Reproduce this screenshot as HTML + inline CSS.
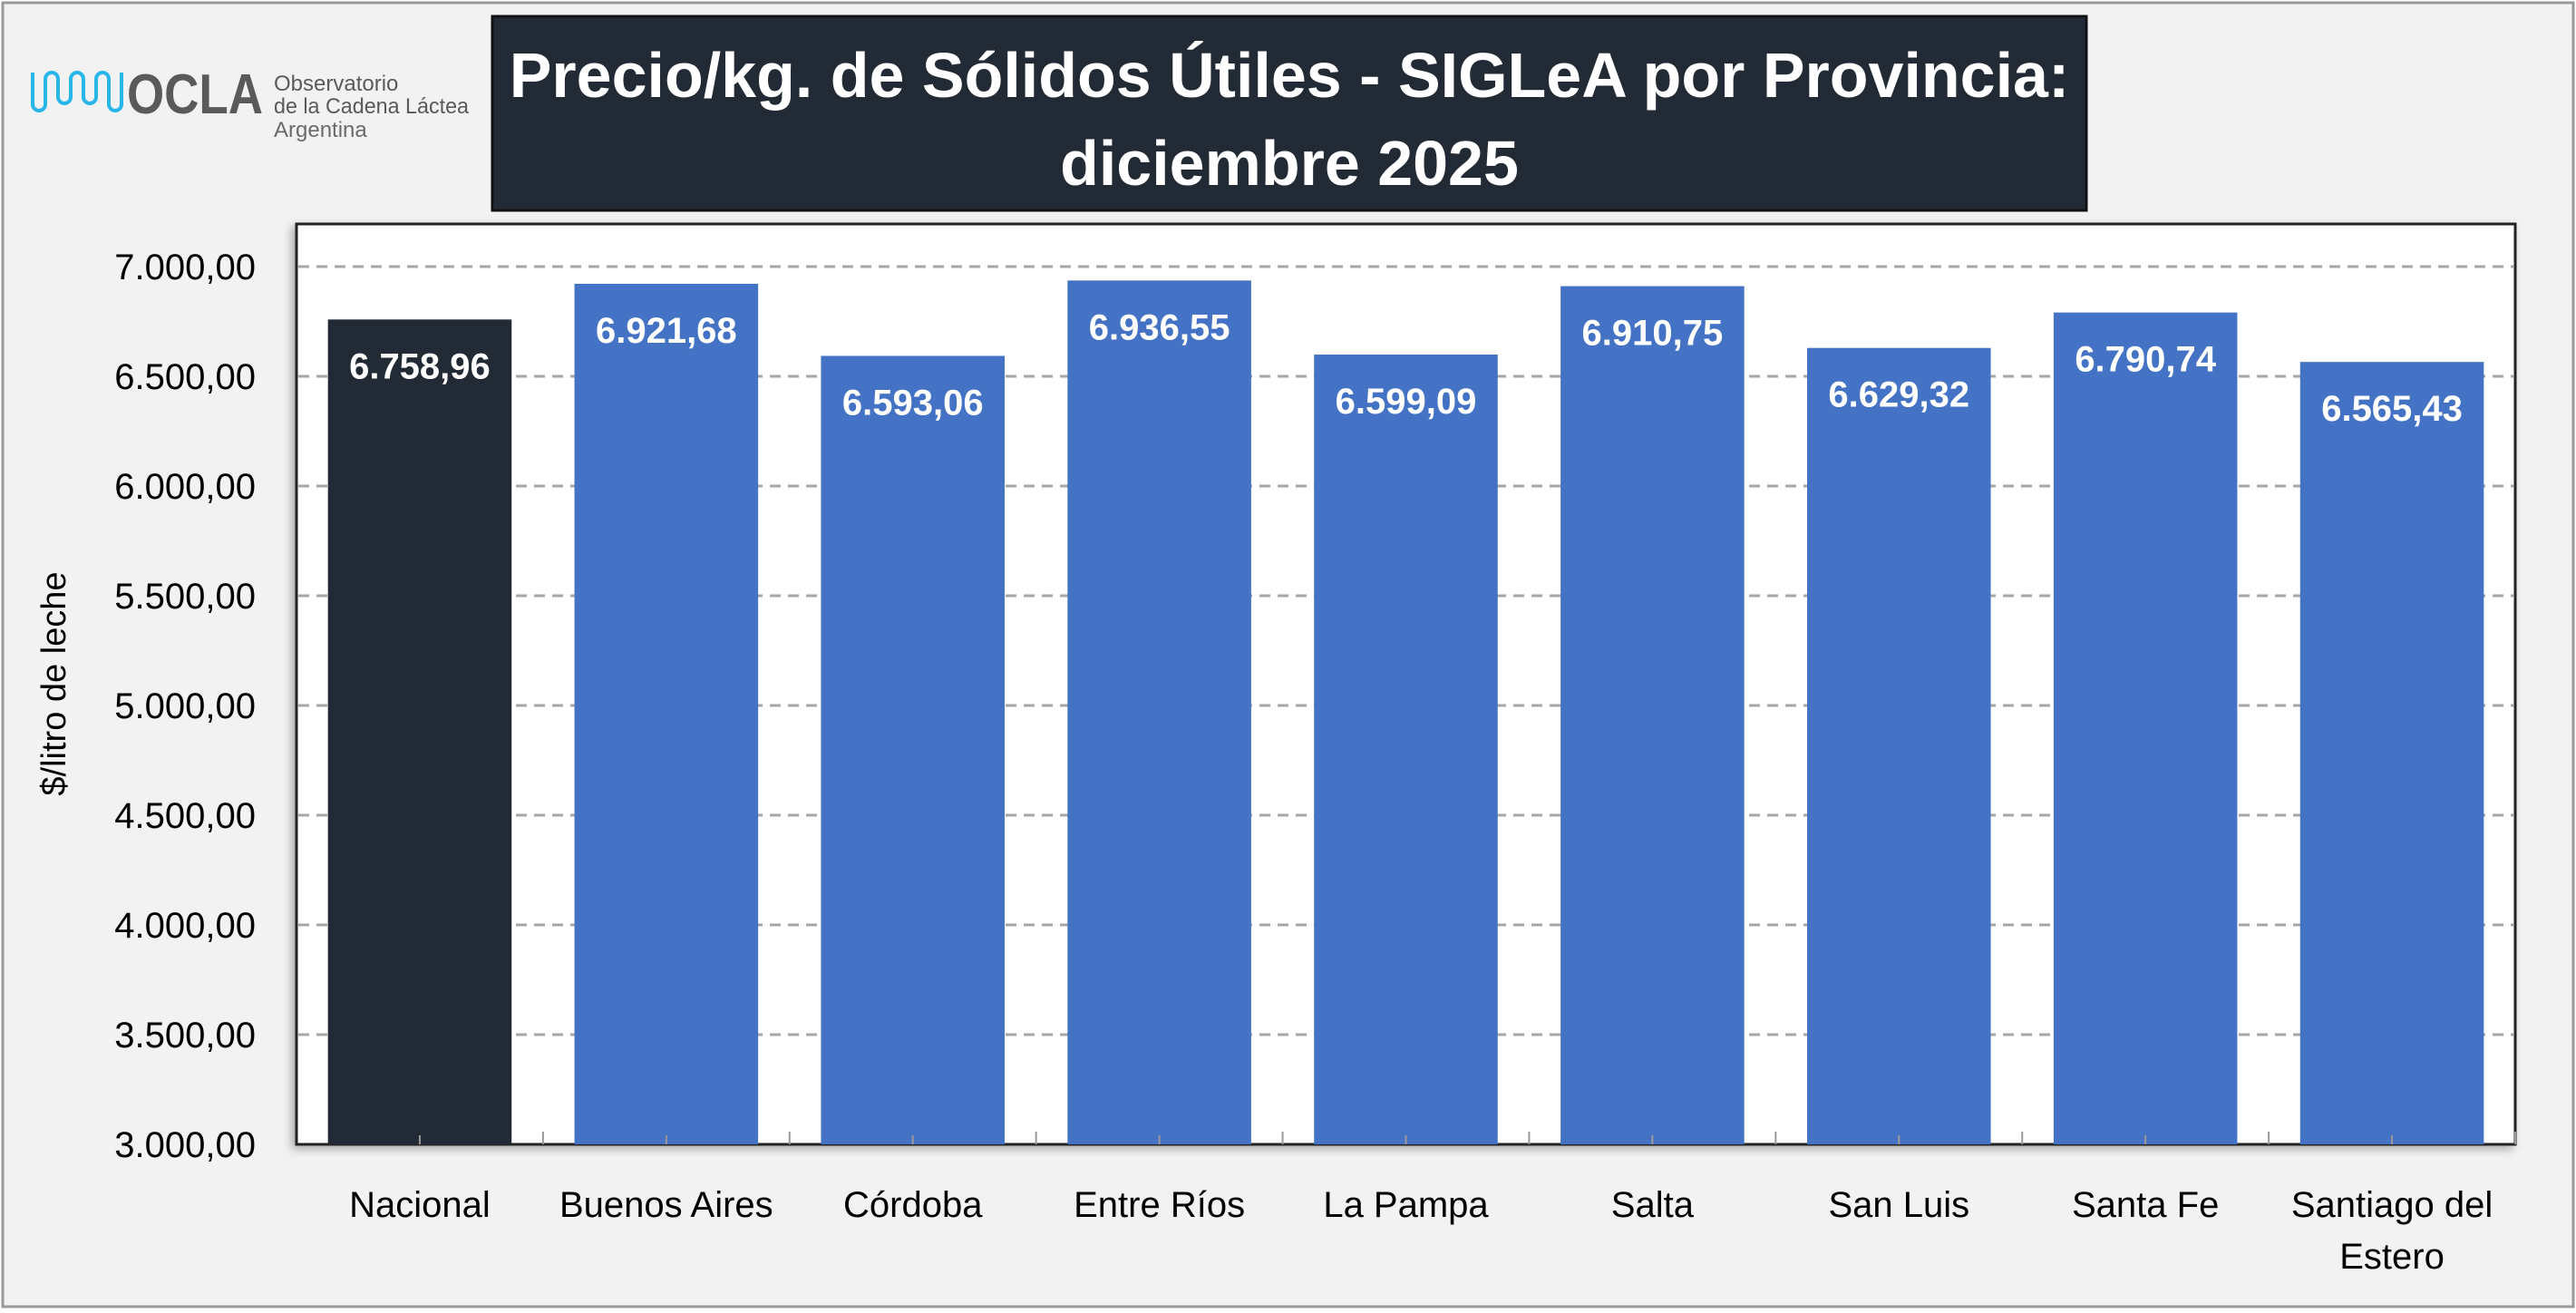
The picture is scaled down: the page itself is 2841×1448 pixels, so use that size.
<!DOCTYPE html>
<html><head><meta charset="utf-8"><style>
html,body{margin:0;padding:0;background:#fff;}
svg{display:block;font-family:"Liberation Sans",sans-serif;}
</style></head><body>
<svg id="chart" width="2841" height="1448" viewBox="0 0 2841 1448" xmlns="http://www.w3.org/2000/svg">
<defs><filter id="sh" x="-5%" y="-5%" width="110%" height="110%"><feDropShadow dx="-4" dy="4" stdDeviation="5" flood-color="#000" flood-opacity="0.3"/></filter></defs>
<rect x="3" y="3" width="2835" height="1438" fill="#f2f2f2" stroke="#999" stroke-width="3"/>
<g>
<path d="M36 80 v35 a7 7 0 0 0 14 0 v-28 a7 7 0 0 1 14 0 v20 a7 7 0 0 0 14 0 v-20 a7 7 0 0 1 14 0 v20 a7 7 0 0 0 14 0 v-20 a7 7 0 0 1 14 0 v28 a7 7 0 0 0 14 0 v-35" fill="none" stroke="#29b6e8" stroke-width="4"/>
<text x="140" y="125" font-size="62" font-weight="bold" fill="#5a5a5a" textLength="150" lengthAdjust="spacingAndGlyphs">OCLA</text>
<text x="302" y="100" font-size="24" fill="#5a5a5a">Observatorio</text>
<text x="302" y="125" font-size="24" fill="#5a5a5a" textLength="215" lengthAdjust="spacingAndGlyphs">de la Cadena Láctea</text>
<text x="302" y="151" font-size="24" fill="#6a6a6a">Argentina</text>
</g>
<g>
<rect x="543" y="18" width="1758" height="214" fill="#222a35" stroke="#111" stroke-width="3"/>
<text x="1422" y="107" font-size="70" font-weight="bold" fill="#fff" text-anchor="middle">Precio/kg. de Sólidos Útiles - SIGLeA por Provincia:</text>
<text x="1422" y="204" font-size="70" font-weight="bold" fill="#fff" text-anchor="middle">diciembre 2025</text>
</g>
<rect x="327" y="247" width="2447" height="1015" fill="#fff" stroke="#222" stroke-width="3" filter="url(#sh)"/>
<g id="grid"></g><g id="bars"></g><g id="labels"></g><g id="ticks"></g>
<text transform="translate(72,754) rotate(-90)" font-size="38" text-anchor="middle" fill="#000">$/litro de leche</text>
</svg>
<script>
const categories=["Nacional","Buenos Aires","Córdoba","Entre Ríos","La Pampa","Salta","San Luis","Santa Fe","Santiago del|Estero"];
const values=[6758.96,6921.68,6593.06,6936.55,6599.09,6910.75,6629.32,6790.74,6565.43];
const valueLabels=["6.758,96","6.921,68","6.593,06","6.936,55","6.599,09","6.910,75","6.629,32","6.790,74","6.565,43"];
const yTicks=[3000,3500,4000,4500,5000,5500,6000,6500,7000];
const yTickLabels=["3.000,00","3.500,00","4.000,00","4.500,00","5.000,00","5.500,00","6.000,00","6.500,00","7.000,00"];
const NS="http://www.w3.org/2000/svg";
const L=327,R=2774,T=247,B=1262,yMin=3000,yMax=7000+500*(T-294)/-121*-1;
function y(v){return B-(v-3000)*(121/500);}
const band=(R-L)/categories.length;
function xc(i){return L+band*(i+0.5);}
function mk(tag,a,p){const e=document.createElementNS(NS,tag);for(const k in a)e.setAttribute(k,a[k]);p.appendChild(e);return e;}
const g=document.getElementById('grid'),bg=document.getElementById('bars'),lg=document.getElementById('labels'),tg=document.getElementById('ticks');
yTicks.forEach((v,i)=>{
  if(v>3000){const l=mk('line',{x1:L+2,x2:R-2,y1:y(v),y2:y(v),stroke:'#a6a6a6','stroke-width':3,'stroke-dasharray':'12 8'},g);
  
  }
  const t=mk('text',{x:282,y:y(v)+14,'font-size':40,'text-anchor':'end',fill:'#000'},g);
  t.textContent=yTickLabels[i];
  
  
});
values.forEach((v,i)=>{
  const w=band*0.745,x=xc(i)-w/2;
  const r=mk('rect',{x:x,y:y(v),width:w,height:B-y(v),fill:i===0?'#222a35':'#4472c4'},bg);
  
  
  const t=mk('text',{x:xc(i),y:y(v)+65,'font-size':40,'font-weight':'bold','text-anchor':'middle',fill:'#fff'},lg);
  t.textContent=valueLabels[i];
  
  
  mk('line',{x1:xc(i),x2:xc(i),y1:B-10,y2:B,stroke:'#999','stroke-width':2},tg);
  mk('line',{x1:L+band*(i+1),x2:L+band*(i+1),y1:B-14,y2:B,stroke:'#999','stroke-width':2},tg);
  const lines=categories[i].split('|');
  lines.forEach((s,j)=>{
    const c=mk('text',{x:xc(i),y:1342+j*57,'font-size':40,'text-anchor':'middle',fill:'#000'},lg);
    c.textContent=s;
    
    
  });
});
</script>
</body></html>
